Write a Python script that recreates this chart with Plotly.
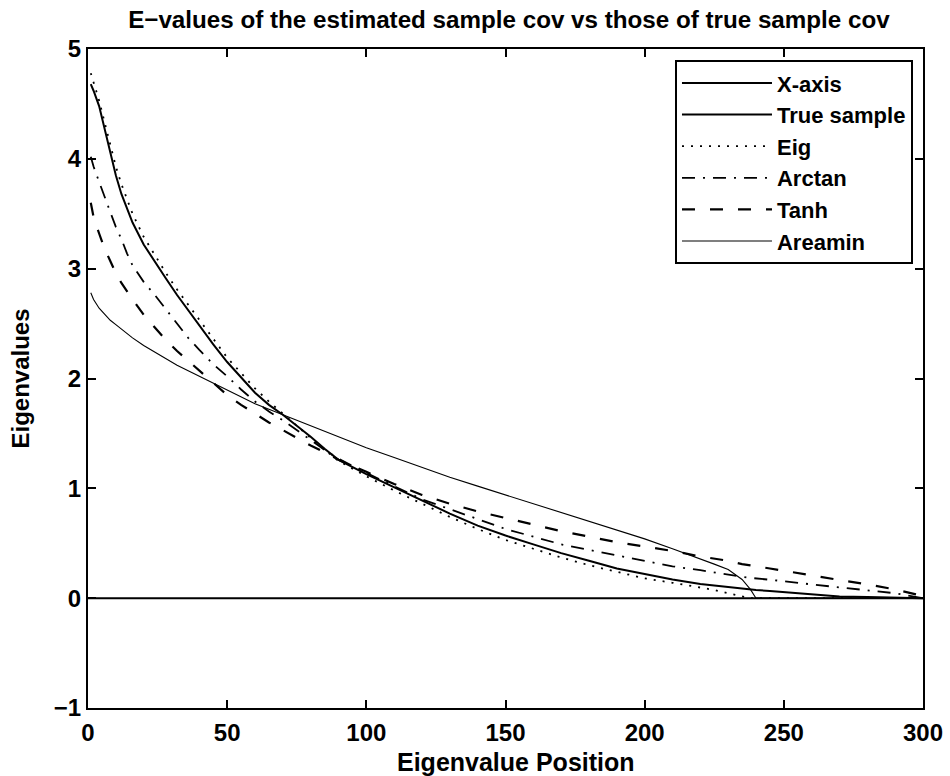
import plotly.graph_objects as go

# Eigenvalue positions at which values were read
positions = [1, 2, 4, 6, 8, 10, 12, 14, 16, 20, 24, 28, 32, 36, 40, 45, 50, 55, 60, 65,
             70, 75, 80, 85, 90, 100, 110, 120, 130, 140, 150, 160, 170, 180, 190, 200,
             210, 220, 225, 230, 235, 238, 240, 245, 250, 260, 270, 280, 290, 300]

true_sample = [4.68, 4.62, 4.48, 4.26, 4.04, 3.85, 3.68, 3.54, 3.42, 3.22, 3.06, 2.91, 2.76, 2.62,
               2.48, 2.31, 2.15, 2.01, 1.87, 1.76, 1.67, 1.57, 1.47, 1.36, 1.26, 1.13, 1.01, 0.89,
               0.77, 0.66, 0.57, 0.49, 0.41, 0.34, 0.27, 0.22, 0.17, 0.13, 0.115, 0.10, 0.09, 0.08,
               0.075, 0.065, 0.055, 0.035, 0.015, 0.01, 0.005, 0.0]

eig = [4.78, 4.70, 4.53, 4.33, 4.12, 3.93, 3.77, 3.63, 3.50, 3.29, 3.12, 2.96, 2.81, 2.67,
       2.53, 2.36, 2.19, 2.05, 1.91, 1.79, 1.68, 1.57, 1.46, 1.35, 1.25, 1.11, 0.98, 0.86,
       0.74, 0.63, 0.53, 0.45, 0.37, 0.30, 0.24, 0.18, 0.14, 0.095, 0.075, 0.045, 0.015, 0.0,
       0.0, 0.0, 0.0, 0.0, 0.0, 0.0, 0.0, 0.0]

arctan = [4.02, 3.93, 3.79, 3.65, 3.50, 3.38, 3.27, 3.14, 3.03, 2.88, 2.76, 2.63, 2.49, 2.37,
          2.26, 2.13, 2.02, 1.90, 1.79, 1.70, 1.62, 1.53, 1.44, 1.35, 1.27, 1.14, 1.02, 0.90,
          0.81, 0.72, 0.63, 0.56, 0.49, 0.44, 0.39, 0.34, 0.29, 0.255, 0.235, 0.21, 0.195, 0.185,
          0.18, 0.17, 0.155, 0.125, 0.10, 0.075, 0.045, 0.0]

tanh = [3.60, 3.47, 3.32, 3.18, 3.07, 2.96, 2.87, 2.79, 2.72, 2.58, 2.46, 2.35, 2.25, 2.16,
        2.07, 1.96, 1.85, 1.76, 1.68, 1.60, 1.53, 1.46, 1.39, 1.33, 1.26, 1.15, 1.04, 0.94,
        0.86, 0.79, 0.73, 0.67, 0.61, 0.56, 0.51, 0.47, 0.43, 0.38, 0.36, 0.34, 0.31, 0.30,
        0.29, 0.27, 0.25, 0.205, 0.165, 0.125, 0.08, 0.02]

areamin = [2.78, 2.72, 2.64, 2.58, 2.53, 2.49, 2.45, 2.41, 2.37, 2.30, 2.24, 2.18, 2.12, 2.07,
           2.02, 1.96, 1.90, 1.83, 1.77, 1.72, 1.67, 1.62, 1.57, 1.52, 1.47, 1.37, 1.28, 1.19,
           1.10, 1.02, 0.94, 0.86, 0.78, 0.70, 0.62, 0.54, 0.45, 0.36, 0.31, 0.26, 0.17, 0.08,
           0.0, 0.0, 0.0, 0.0, 0.0, 0.0, 0.0, 0.0]

xaxis_x = [0, 300]
xaxis_y = [0, 0]

series_names = ["X-axis", "True sample", "Eig", "Arctan", "Tanh", "Areamin"]
title_text = "E−values of the estimated sample cov vs those of true sample cov"
x_title = "Eigenvalue Position"
y_title = "Eigenvalues"
x_ticks = [0, 50, 100, 150, 200, 250, 300]
x_tick_text = ["0", "50", "100", "150", "200", "250", "300"]
y_ticks = [-1, 0, 1, 2, 3, 4, 5]
y_tick_text = ["−1", "0", "1", "2", "3", "4", "5"]

FONT = "Liberation Sans, Arial, sans-serif"


def b(s):
    return "<b>" + s + "</b>"


fig = go.Figure()
fig.add_trace(go.Scatter(x=xaxis_x, y=xaxis_y, mode="lines", name=b(series_names[0]),
                         line=dict(color="black", width=2)))
fig.add_trace(go.Scatter(x=positions, y=true_sample, mode="lines", name=b(series_names[1]),
                         line=dict(color="black", width=2)))
fig.add_trace(go.Scatter(x=positions, y=eig, mode="lines", name=b(series_names[2]),
                         line=dict(color="black", width=1.8, dash="2px,7px")))
fig.add_trace(go.Scatter(x=positions, y=arctan, mode="lines", name=b(series_names[3]),
                         line=dict(color="black", width=1.8, dash="13px,8px,2px,8px")))
fig.add_trace(go.Scatter(x=positions, y=tanh, mode="lines", name=b(series_names[4]),
                         line=dict(color="black", width=2.2, dash="13px,15px")))
fig.add_trace(go.Scatter(x=positions, y=areamin, mode="lines", name=b(series_names[5]),
                         line=dict(color="black", width=1.1)))

axis_common = dict(showline=True, linecolor="black", linewidth=2, mirror="ticks",
                   ticks="inside", ticklen=8, tickwidth=2, tickcolor="black",
                   showgrid=False, zeroline=False, automargin=False,
                   tickfont=dict(family=FONT, size=24, color="black"))

fig.update_layout(
    width=950, height=776,
    paper_bgcolor="white", plot_bgcolor="white",
    margin=dict(l=88, r=27, t=49, b=68),
    font=dict(family=FONT, color="black"),
    title=dict(text=b(title_text), x=0.5357, xanchor="center", y=0.9742,
               yanchor="middle", font=dict(family=FONT, size=24.2, color="black")),
    xaxis=dict(range=[0, 300], tickvals=x_ticks, ticktext=[b(t) for t in x_tick_text],
               ticklabelstandoff=2, **axis_common),
    yaxis=dict(range=[-1, 5], tickvals=y_ticks, ticktext=[b(t) for t in y_tick_text],
               ticklabelstandoff=0,
               title=dict(text=b(y_title), standoff=17,
                          font=dict(family=FONT, size=24, color="black")),
               **axis_common),
    legend=dict(x=0.988, y=0.983, xanchor="right", yanchor="top",
                bgcolor="white", bordercolor="black", borderwidth=2,
                font=dict(family=FONT, size=22, color="black"),
                itemwidth=90, tracegroupgap=0),
    showlegend=True,
    annotations=[dict(text=b(x_title), xref="paper", yref="paper", x=0.512, y=-0.082,
                      xanchor="center", yanchor="middle", showarrow=False,
                      font=dict(family=FONT, size=25, color="black"))],
)

fig.write_html(
    "out.html",
    config={"displayModeBar": False},
    post_script="document.body.style.margin='0';document.body.style.overflow='hidden';",
)
